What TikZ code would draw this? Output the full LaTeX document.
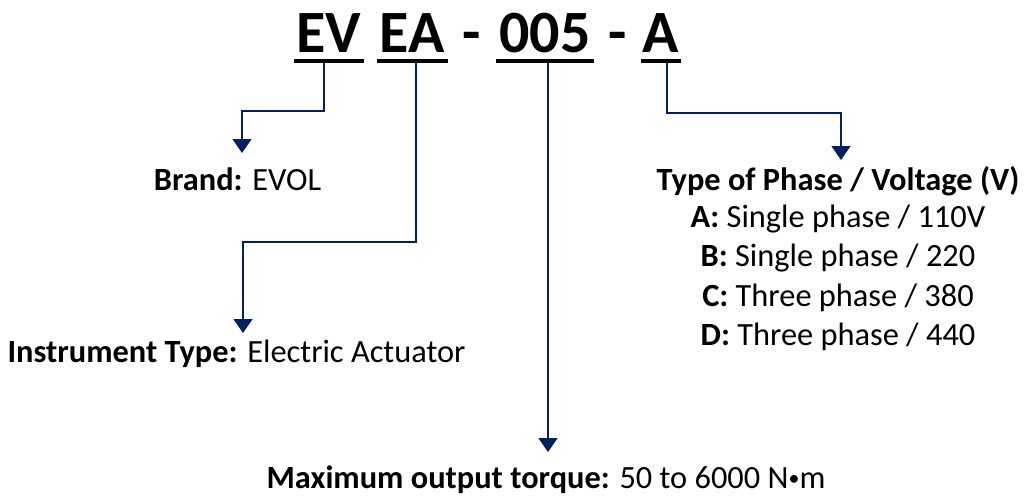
\documentclass[tikz,border=0pt]{standalone}
\usepackage{fontspec}
\setmainfont{Carlito}
\usetikzlibrary{arrows.meta}
\definecolor{navy}{RGB}{0,32,96}

\begin{document}
\begin{tikzpicture}[x=0.5pt, y=-0.5pt, >={Triangle[width=9.5pt,length=7pt]},
    link/.style={->, draw=navy, line width=0.7pt},
    code/.style={font=\fontsize{30}{36}\selectfont\bfseries, inner sep=0pt, anchor=base},
    uline/.style={line width=2pt},
    lbl/.style={font=\fontsize{16.2}{19.5}\selectfont, inner sep=0pt, anchor=base}]
    \useasboundingbox (0,0) rectangle (1024,499);
    % model code
    \node[code] (ev) at (329,52) {EV};
    \node[code] (ea) at (412,52) {EA};
    \node[code] (dash1) at (472,52) {-};
    \node[code] (n005) at (545,52) {005};
    \node[code] (dash2) at (618,52) {-};
    \node[code] (a) at (661,52) {A};
    \draw[uline] (294,61) -- (364,61);
    \draw[uline] (377,61) -- (448,61);
    \draw[uline] (496,61) -- (594,61);
    \draw[uline] (641,61) -- (681,61);
    % descriptions
    \node[lbl] (brand) at (237.5,190) {\textbf{Brand:} EVOL};
    \node[lbl] (itype) at (236.5,362) {\textbf{Instrument Type:} Electric Actuator};
    \node[lbl] (torque) at (546,488) {\textbf{Maximum output torque:} 50 to 6000 N{\fontsize{11}{12}\selectfont\raisebox{1.2pt}{•}}m};
    \node[lbl] (phase) at (838,190) {\textbf{Type of Phase / Voltage (V)}};
    \node[lbl] (phaseA) at (838,227) {\textbf{A:} Single phase / 110V};
    \node[lbl] (phaseB) at (838,266) {\textbf{B:} Single phase / 220};
    \node[lbl] (phaseC) at (838,306) {\textbf{C:} Three phase / 380};
    \node[lbl] (phaseD) at (838,345) {\textbf{D:} Three phase / 440};
    % connectors
    \coordinate (evfoot) at (324,63);
    \coordinate (eafoot) at (416,63);
    \coordinate (n005foot) at (548,63);
    \coordinate (afoot) at (667,63);
    \draw[link] (evfoot) |- (242,111) -- (242,153);
    \draw[link] (eafoot) |- (243,242) -- (243,333);
    \draw[link] (n005foot) -- (548,452);
    \draw[link] (afoot) |- (841,113) -- (841,160);
\end{tikzpicture}
\end{document}
